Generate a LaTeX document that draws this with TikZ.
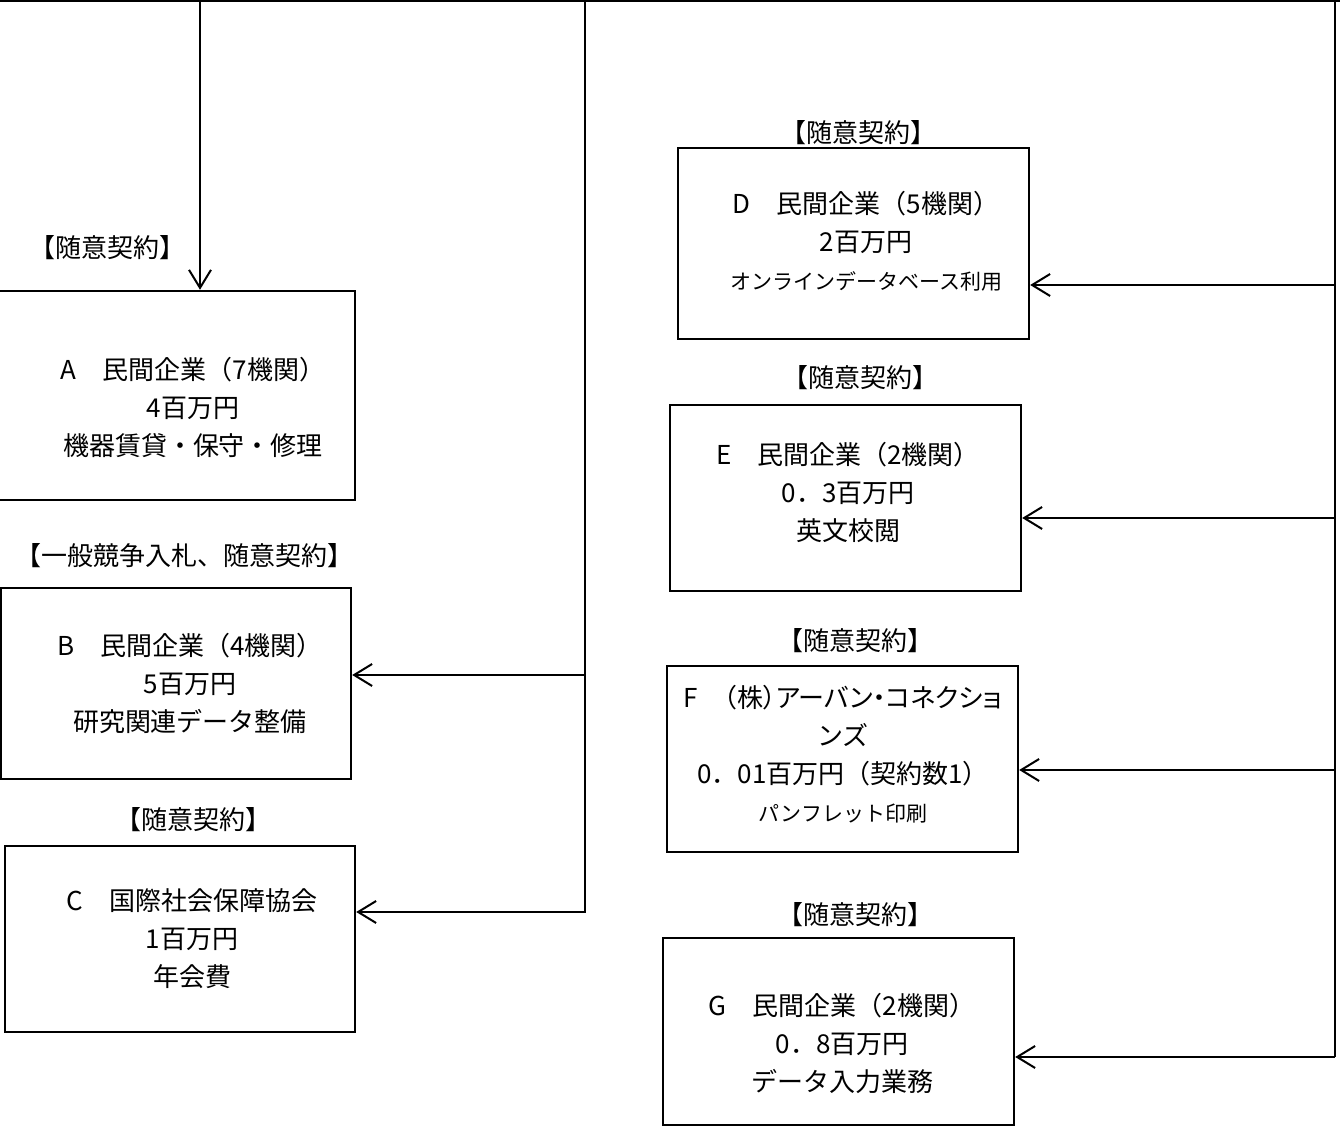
\documentclass[tikz,border=0pt]{standalone}
\usepackage{fontspec}
\setmainfont{Noto Sans CJK JP}
\newfontfamily\jpprop[RawFeature=+palt]{Noto Sans CJK JP}
\usetikzlibrary{arrows.meta}
\tikzset{
  box/.style={draw, line width=1.2pt, rectangle, inner sep=0pt},
  txt/.style={align=center, inner sep=0pt, font=\fontsize{13}{19}\selectfont},
  lbl/.style={inner sep=0pt, font=\fontsize{13}{19}\selectfont},
  wire/.style={line width=1pt},
  arr/.style={line width=1pt, -{Straight Barb[length=9pt,width=11pt,line width=1pt]}}
}
\newcommand{\smalljp}{\fontsize{10.5}{19}\selectfont}
\begin{document}
\begin{tikzpicture}[x=0.5pt,y=-0.5pt]
\useasboundingbox (0,0) rectangle (1340,1127);
\clip (0,0) rectangle (1340,1127);
% boxes
\node[box, minimum width=187.5pt, minimum height=104.5pt] (boxA) at (167.5,395.5) {};
\node[box, minimum width=175pt, minimum height=95.5pt] (boxB) at (176,683.5) {};
\node[box, minimum width=175pt, minimum height=93pt] (boxC) at (180,939) {};
\node[box, minimum width=175.5pt, minimum height=95.5pt] (boxD) at (853.5,243.5) {};
\node[box, minimum width=175.5pt, minimum height=93pt] (boxE) at (845.5,498) {};
\node[box, minimum width=175.5pt, minimum height=93pt] (boxF) at (842.5,759) {};
\node[box, minimum width=175.5pt, minimum height=93.5pt] (boxG) at (838.5,1031.5) {};
% box texts
\node[txt] (tA) at (193,407) {A　民間企業（7機関）\\4百万円\\機器賃貸・保守・修理};
\node[txt] (tB) at (190,683) {B　民間企業（4機関）\\5百万円\\研究関連データ整備};
\node[txt] (tC) at (192,939) {C　国際社会保障協会\\1百万円\\年会費};
\node[txt] (tD) at (866,241) {D　民間企業（5機関）\\2百万円\\{\smalljp オンラインデータベース利用}};
\node[txt] (tE) at (848,492) {E　民間企業（2機関）\\0．3百万円\\英文校閲};
\node[txt] (tF) at (843,754) {{\jpprop F　（株）アーバン・コネクショ}\\ンズ\\0．01百万円（契約数1）\\{\smalljp パンフレット印刷}};
\node[txt] (tG) at (842,1043) {G　民間企業（2機関）\\0．8百万円\\データ入力業務};
% labels
\node[lbl] (lA) at (108,248) {【随意契約】};
\node[lbl] (lB) at (185,556) {【一般競争入札、随意契約】};
\node[lbl] (lC) at (193,820) {【随意契約】};
\node[lbl] (lD) at (858,133) {【随意契約】};
\node[lbl] (lE) at (860,378) {【随意契約】};
\node[lbl] (lF) at (855,641) {【随意契約】};
\node[lbl] (lG) at (855,915) {【随意契約】};
% trunk coordinates
\coordinate (topL) at (0,1);
\coordinate (topR) at (1340,1);
\coordinate (v1) at (200,1);
\coordinate (v2) at (585,1);
\coordinate (v2b) at (585,913);
\coordinate (v3) at (1335,1);
\coordinate (v3b) at (1335,1057);
\coordinate (aB) at (585,675);
\coordinate (aC) at (585,912);
\coordinate (aD) at (1335,285);
\coordinate (aE) at (1335,518);
\coordinate (aF) at (1335,770);
\coordinate (aG) at (1335,1057);
% connectors
\draw[wire] (topL) -- (topR);
\draw[arr] (v1) -- (v1 |- boxA.north);
\draw[wire] (v2) -- (v2b);
\draw[wire] (v3) -- (v3b);
\draw[arr] (aB) -- (aB -| boxB.east);
\draw[arr] (aC) -- (aC -| boxC.east);
\draw[arr] (aD) -- (aD -| boxD.east);
\draw[arr] (aE) -- (aE -| boxE.east);
\draw[arr] (aF) -- (aF -| boxF.east);
\draw[arr] (aG) -- (aG -| boxG.east);
\end{tikzpicture}
\end{document}
